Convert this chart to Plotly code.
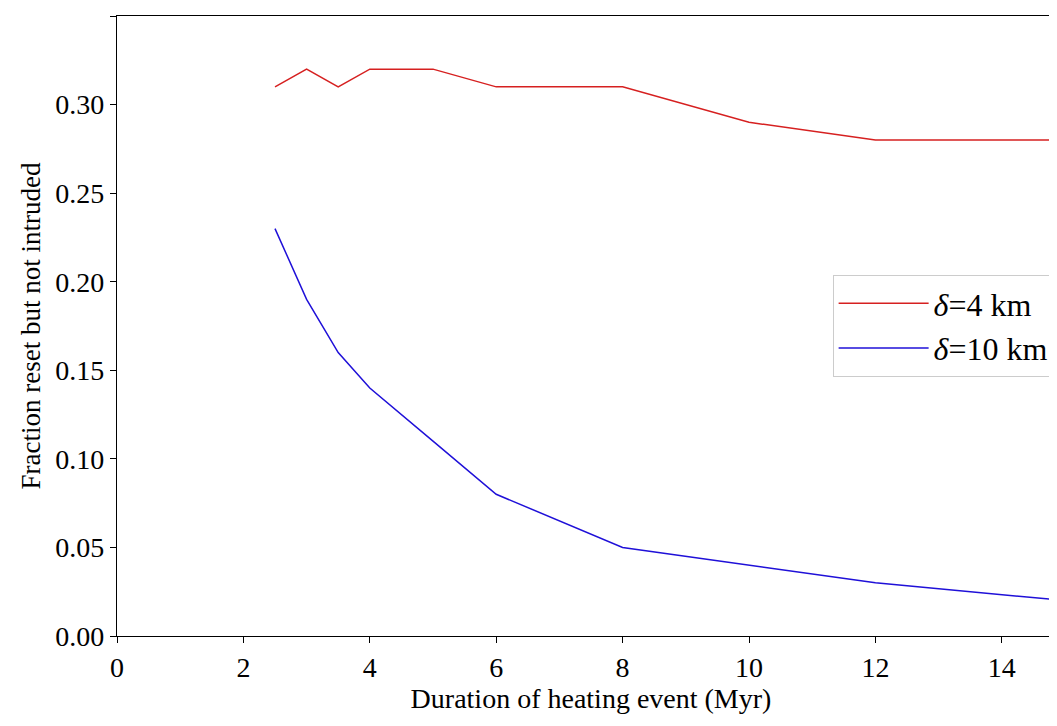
import plotly.graph_objects as go

duration = [2.5, 3, 3.5, 4, 5, 6, 8, 10, 12, 15]
frac_4km = [0.31, 0.32, 0.31, 0.32, 0.32, 0.31, 0.31, 0.29, 0.28, 0.28]
frac_10km = [0.23, 0.19, 0.16, 0.14, 0.11, 0.08, 0.05, 0.04, 0.03, 0.02]

fig = go.Figure()
fig.add_trace(go.Scatter(x=duration, y=frac_4km, mode="lines", name="<i>δ</i>=4 km",
                         line=dict(color="#d62020", width=1.5)))
fig.add_trace(go.Scatter(x=duration, y=frac_10km, mode="lines", name="<i>δ</i>=10 km",
                         line=dict(color="#1f10d8", width=1.5)))

axis_style = dict(showgrid=False, zeroline=False, showline=True, mirror=True,
                  linecolor="black", linewidth=1.2, ticks="outside", ticklen=6,
                  tickcolor="black", tickfont=dict(size=28))
fig.update_xaxes(range=[0, 15], dtick=2, title=dict(text="Duration of heating event (Myr)",
                 font=dict(size=28), standoff=6), **axis_style)
fig.update_yaxes(range=[0, 0.35], dtick=0.05, tickformat=".2f",
                 title=dict(text="Fraction reset but not intruded", font=dict(size=27), standoff=6),
                 **axis_style)

fig.update_layout(
    width=1057, height=726,
    margin=dict(l=109, r=0, t=8, b=98),
    plot_bgcolor="white", paper_bgcolor="white",
    font=dict(family="Liberation Serif, DejaVu Serif, serif", color="black"),
    legend=dict(x=0.988, y=0.50, xanchor="right", yanchor="middle",
                bgcolor="white", bordercolor="#cccccc", borderwidth=1,
                font=dict(size=32), itemwidth=90, tracegroupgap=10),
)

fig.write_html("out.html")
